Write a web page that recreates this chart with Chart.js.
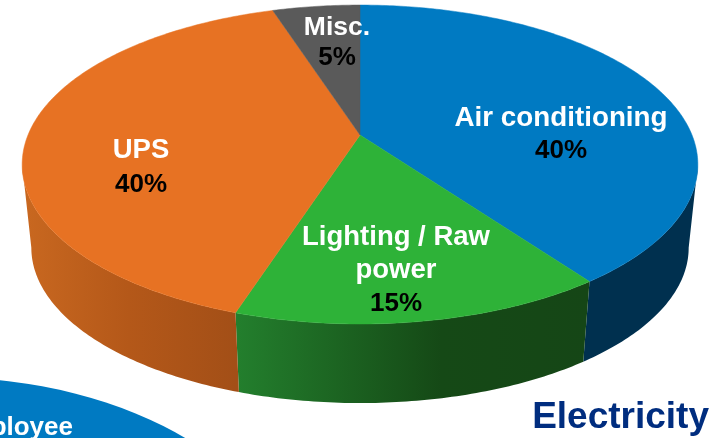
<!DOCTYPE html>
<html>
<head>
<meta charset="utf-8">
<style>
  html, body { margin: 0; padding: 0; background: #fff; overflow: hidden; }
  canvas { display: block; }
</style>
<script src="https://cdn.jsdelivr.net/npm/chart.js@4/dist/chart.umd.min.js"></script>
</head>
<body>
<canvas id="pie" width="714" height="438"></canvas>
<script>
// Electricity use by category
const categories = ["Air conditioning", "Lighting / Raw power", "UPS", "Misc."];
const shares = [40, 15, 40, 5];
const labelLines = [["Air conditioning"], ["Lighting / Raw", "power"], ["UPS"], ["Misc."]];

// Slice styling
const topColors = ["#007AC2", "#2EB238", "#E77223", "#5A5A5A"];
const wallStart = ["#00304F", "#154616", "#A34F17", "#3A3A3A"];
const wallMid = ["#00304F", "#154916", "#B45819", "#3A3A3A"];
const wallEnd = ["#00304F", "#237F2D", "#C96820", "#3A3A3A"];
const wallMidStop = [0.5, 0.42, 0.5, 0.5];

// Label anchors: centre x, first baseline, line spacing, name size
const labelX = [561, 396, 141, 337];
const labelY = [126, 245, 158, 35];
const lineGap = [32, 33, 34, 30];
const nameSize = [27.8, 27.5, 27.5, 26.5];

// Projection of the disc: perspective tilt, top face and bottom face
const tilt = 0.185;
const topFace = { cx: 360, cy: 135, a: 332, b: 154 };
const bottomFace = { cx: 360, cy: 219, a: 323, b: 150 };

function project(face, theta) {
  const u = Math.sin(theta), v = -Math.cos(theta);
  const w = 1 - tilt * v;
  return [face.cx + face.a * u / w, face.cy + face.b * v / w];
}

const disc3d = {
  id: "disc3d",
  beforeDatasetDraw(chart, args) {
    const ctx = chart.ctx;
    const arcs = chart.getDatasetMeta(args.index).data;
    const step = Math.PI / 240;
    // rim angles where the wall meets the disc's outline
    const rimStart = Math.acos(-tilt);
    const rimEnd = Math.PI * 2 - rimStart;

    // side wall, one shaded band per slice
    arcs.forEach((arc, i) => {
      const a0 = arc.startAngle + Math.PI / 2, a1 = arc.endAngle + Math.PI / 2;
      const from = Math.max(a0, rimStart), to = Math.min(a1, rimEnd);
      if (to <= from) return;
      const upper = [], lower = [];
      for (let t = from; t < to; t += step) {
        upper.push(project(topFace, t));
        lower.push(project(bottomFace, t));
      }
      upper.push(project(topFace, to));
      lower.push(project(bottomFace, to));
      ctx.beginPath();
      upper.concat(lower.reverse()).forEach((q, k) => {
        if (k) ctx.lineTo(q[0], q[1]); else ctx.moveTo(q[0], q[1]);
      });
      ctx.closePath();
      const g = ctx.createLinearGradient(upper[0][0], 0, upper[upper.length - 1][0], 0);
      g.addColorStop(0, wallStart[i]);
      g.addColorStop(wallMidStop[i], wallMid[i]);
      g.addColorStop(1, wallEnd[i]);
      ctx.fillStyle = g;
      ctx.fill();
    });

    // top face
    arcs.forEach((arc, i) => {
      const a0 = arc.startAngle + Math.PI / 2, a1 = arc.endAngle + Math.PI / 2;
      ctx.beginPath();
      ctx.moveTo(topFace.cx, topFace.cy);
      for (let t = a0; t < a1; t += step) {
        const q = project(topFace, t);
        ctx.lineTo(q[0], q[1]);
      }
      const last = project(topFace, a1);
      ctx.lineTo(last[0], last[1]);
      ctx.closePath();
      ctx.fillStyle = topColors[i];
      ctx.strokeStyle = topColors[i];
      ctx.lineWidth = 0.5;
      ctx.fill();
      ctx.stroke();
    });
    return false;
  },
  afterDatasetsDraw(chart) {
    const ctx = chart.ctx;
    ctx.save();
    ctx.textAlign = "center";
    ctx.textBaseline = "alphabetic";
    categories.forEach((name, i) => {
      let y = labelY[i];
      ctx.fillStyle = "#FFFFFF";
      ctx.font = 'bold ' + nameSize[i] + 'px "Liberation Sans", Arial, sans-serif';
      labelLines[i].forEach(line => {
        ctx.fillText(line, labelX[i], y);
        y += lineGap[i];
      });
      ctx.fillStyle = "#000000";
      ctx.font = 'bold 26px "Liberation Sans", Arial, sans-serif';
      ctx.fillText(shares[i] + "%", labelX[i], y);
    });
    ctx.restore();
  }
};

// Neighbouring panel edge and this panel's caption
const panelDecor = {
  id: "panelDecor",
  afterDraw(chart) {
    const ctx = chart.ctx;
    ctx.save();
    ctx.beginPath();
    ctx.ellipse(-60, 593, 352, 216, 0, 0, Math.PI * 2);
    ctx.fillStyle = "#007AC2";
    ctx.fill();
    ctx.fillStyle = "#FFFFFF";
    ctx.font = 'bold 26px "Liberation Sans", Arial, sans-serif';
    ctx.textAlign = "right";
    ctx.fillText("Employee", 73, 435);
    ctx.fillStyle = "#002D7F";
    ctx.font = 'bold 37px "Liberation Sans", Arial, sans-serif';
    ctx.fillText("Electricity", 709, 428);
    ctx.restore();
  }
};

new Chart(document.getElementById("pie"), {
  type: "pie",
  data: { labels: categories, datasets: [{ data: shares, backgroundColor: topColors, borderWidth: 0 }] },
  options: {
    responsive: false,
    animation: false,
    events: [],
    plugins: { legend: { display: false }, tooltip: { enabled: false } }
  },
  plugins: [disc3d, panelDecor]
});
</script>
</body>
</html>
